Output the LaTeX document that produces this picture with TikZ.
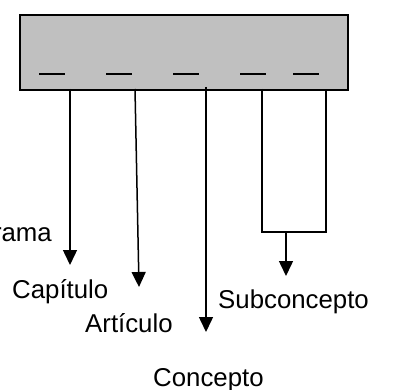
\documentclass[tikz,border=0pt]{standalone}
\usepackage{fontspec}
\setmainfont{Liberation Sans}
\usetikzlibrary{arrows.meta}
\definecolor{boxgray}{RGB}{192,192,192}
\tikzset{
  lbl/.style={font=\fontsize{25.8}{30}\selectfont, inner sep=0pt, anchor=base west},
  conn/.style={line width=1.5pt, -{Triangle[width=14pt,length=15pt]}},
  plain/.style={line width=1.5pt},
  blank/.style={line width=2.2pt}
}
\begin{document}
\begin{tikzpicture}[x=1pt,y=-1pt]
\useasboundingbox (0,0) rectangle (393,390);
\clip (0,0) rectangle (393,390);
\node[draw=black, line width=1.8pt, fill=boxgray, minimum width=328pt, minimum height=75pt, inner sep=0pt, anchor=north west] (box) at (19,14) {};
% blanks
\foreach \a/\b in {39/65,106/132,173/199,240/266,293/319}
  \draw[blank] (\a,74) -- (\b,74);
% text
\node[lbl, anchor=base east] (prog) at (52,241) {Programa};
\node[lbl] (cap) at (12,298) {Capítulo};
\node[lbl] (art) at (85,332) {Artículo};
\node[lbl] (sub) at (218,308) {Subconcepto};
\node[lbl] (con) at (153,386) {Concepto};
% connector points
\coordinate (s1) at (70,89);
\coordinate (e1) at (70,265);
\coordinate (s2) at (135,89);
\coordinate (e2) at (139,287);
\coordinate (s3) at (206,87);
\coordinate (e3) at (206,332);
\coordinate (s4) at (262,89);
\coordinate (s5) at (326,89);
\coordinate (j4) at (262,232);
\coordinate (j5) at (326,232);
\coordinate (jm) at (286,232);
\coordinate (e4) at (286,276);
\draw[conn] (s1) -- (e1);
\draw[conn] (s2) -- (e2);
\draw[conn] (s3) -- (e3);
\draw[plain] (s4) -- (j4) -- (j5) -- (s5);
\draw[conn] (jm) -- (e4);
\end{tikzpicture}
\end{document}
